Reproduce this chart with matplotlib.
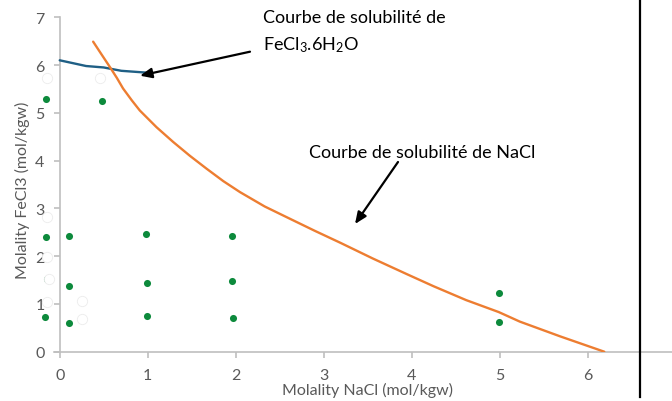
import matplotlib
matplotlib.use("Agg")
import matplotlib.pyplot as plt
from matplotlib.lines import Line2D

plt.rcParams['font.family'] = ['Lato', 'DejaVu Sans']
plt.rcParams['mathtext.fontset'] = 'custom'
plt.rcParams['mathtext.rm'] = 'Lato'
plt.rcParams['mathtext.it'] = 'Lato:italic'
plt.rcParams['mathtext.bf'] = 'Lato:bold'

# FeCl3.6H2O solubility curve
fe_x = [0.0, 0.3, 0.5, 0.7, 1.0]
fe_y = [6.10, 5.98, 5.95, 5.88, 5.84]

# NaCl solubility curve
na_x = [0.38, 0.48, 0.57, 0.65, 0.72, 0.82, 0.91, 1.10, 1.29, 1.48, 1.67, 1.86, 2.05,
        2.33, 2.62, 2.90, 3.19, 3.56, 3.95, 4.25, 4.62, 4.99, 5.23, 5.69, 6.19]
na_y = [6.49, 6.21, 5.96, 5.73, 5.51, 5.26, 5.05, 4.70, 4.39, 4.10, 3.83, 3.57, 3.34,
        3.04, 2.78, 2.53, 2.28, 1.95, 1.62, 1.37, 1.08, 0.83, 0.63, 0.32, 0.0]

# experimental points
pt_x = [-0.16, 0.48, -0.16, 0.10, 0.98, 1.96, -0.15, 0.10, 0.99, 1.96, -0.17, 0.10, 0.99, 1.97, 4.99, 4.99]
pt_y = [5.30, 5.25, 2.40, 2.42, 2.47, 2.42, 1.52, 1.38, 1.43, 1.48, 0.73, 0.60, 0.75, 0.70, 1.22, 0.62]

# faint hidden markers
gh_x = [-0.15, 0.46, -0.15, -0.15, -0.12, -0.15, 0.25, 0.25]
gh_y = [5.73, 5.72, 2.82, 1.98, 1.52, 1.04, 1.07, 0.69]

x_ticks = [0, 1, 2, 3, 4, 5, 6]
y_ticks = [0, 1, 2, 3, 4, 5, 6, 7]

fig = plt.figure(figsize=(6.72, 4.02), dpi=100)
W, H = 672, 402
ax = fig.add_axes([54 / W, (H - 352.7) / H, (672 - 54) / W, (352.7 - 18.3) / H])

ax.set_xlim(-0.065, 6.96)
ax.set_ylim(0, 7)

ax.plot(fe_x, fe_y, color='#1f5f85', lw=1.7, zorder=3, solid_capstyle='round')
ax.plot(na_x, na_y, color='#ed7d31', lw=1.7, zorder=3, solid_capstyle='round',
        solid_joinstyle='round')
ax.scatter(pt_x, pt_y, s=26, color='#0d8a3c', zorder=4, clip_on=False, linewidths=0)
ax.scatter(gh_x, gh_y, s=55, facecolor='white', edgecolor='#ececec', linewidths=0.6,
           zorder=5, clip_on=False)

for s in ['top', 'right']:
    ax.spines[s].set_visible(False)
ax.spines['left'].set_position(('data', 0))
for s in ['left', 'bottom']:
    ax.spines[s].set_color('#bfbfbf')
    ax.spines[s].set_linewidth(1.2)

ax.set_xticks(x_ticks)
ax.set_yticks(y_ticks)
ax.tick_params(axis='both', colors='#bfbfbf', labelcolor='#595959', labelsize=11.5,
               length=4, width=1.2)
ax.tick_params(axis='x', pad=8)
ax.tick_params(axis='y', pad=7)

ax.set_xlabel('Molality NaCl (mol/kgw)', fontsize=11.5, color='#595959', va='center')
ax.xaxis.set_label_coords((368 - 54) / 618, (352.7 - 390) / 334.4)
ax.set_ylabel('Molality FeCl3 (mol/kgw)', fontsize=11.5, color='#595959', va='center')
ax.yaxis.set_label_coords((22 - 54) / 618, (352.7 - 190) / 334.4)

# annotations
fig.text(263 / W, (H - 18) / H, 'Courbe de solubilité de', fontsize=13,
         ha='left', va='center', color='black')
fig.text(263 / W, (H - 45) / H, r'FeCl$_\mathregular{3}$.6H$_\mathregular{2}$O', fontsize=13,
         ha='left', va='center', color='black')
fig.text(309 / W, (H - 153) / H, 'Courbe de solubilité de NaCl', fontsize=13,
         ha='left', va='center', color='black')

arrow = dict(arrowstyle='-|>,head_length=0.7,head_width=0.3', color='black', lw=1.6,
             shrinkA=0, shrinkB=0)
ax.annotate('', xy=(140, H - 76.7), xytext=(250, H - 52.7),
            xycoords='figure pixels', textcoords='figure pixels', arrowprops=arrow)
ax.annotate('', xy=(355, H - 225), xytext=(398, H - 163),
            xycoords='figure pixels', textcoords='figure pixels', arrowprops=arrow)

fig.add_artist(Line2D([640 / W, 640 / W], [4 / H, 1.0], color='black', lw=1.6,
                      transform=fig.transFigure))

fig.savefig('out.png', dpi=100)
